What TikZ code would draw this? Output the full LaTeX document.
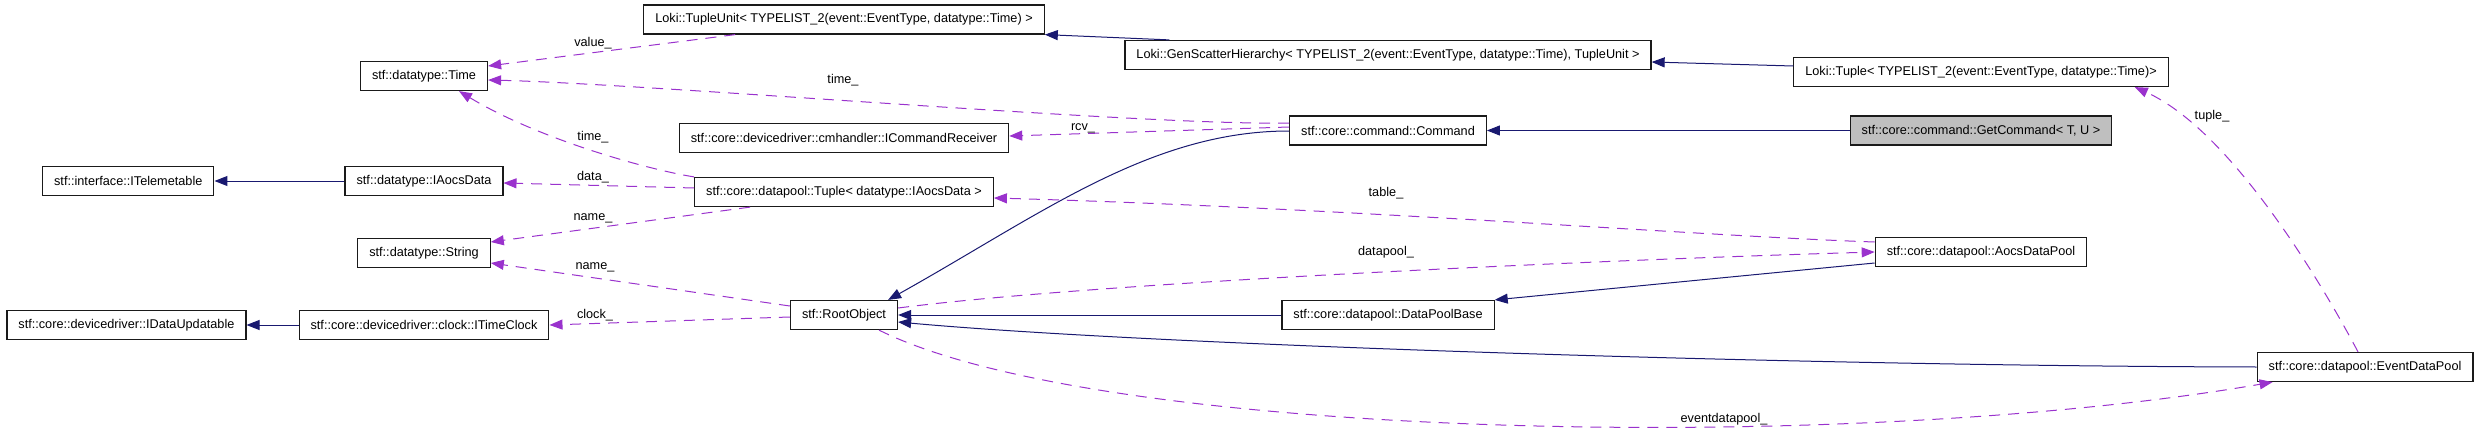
\documentclass[tikz,border=0pt]{standalone}
\usepackage{fontspec}
\setmainfont{Liberation Sans}
\usetikzlibrary{arrows.meta,positioning}
\definecolor{edgeblue}{HTML}{191970}
\definecolor{edgepurple}{HTML}{9A32CD}
\definecolor{boxline}{HTML}{1A1A1A}
\definecolor{boxfocus}{HTML}{BFBFBF}

\begin{document}
\begin{tikzpicture}[x=1pt, y=-1pt,
  cls/.style={rectangle, draw=boxline, line width=1.2pt, fill=white,
              minimum height=29pt, inner xsep=11.5pt, inner ysep=0pt,
              font=\fontsize{12.7}{15}\selectfont, text=black},
  focus/.style={cls, fill=boxfocus},
  inh/.style={-{Triangle[length=13pt,width=10pt]}, line width=1pt, edgeblue},
  member/.style={-{Triangle[length=13pt,width=10pt]}, line width=1pt, edgepurple,
                 dash pattern=on 11pt off 8pt},
  lbl/.style={font=\fontsize{12.7}{15}\selectfont, text=black, inner sep=1pt},
]
  \useasboundingbox (0,0) rectangle (2480,441);

  % interfaces and data types
  \node[cls] (time) at (424,76) {stf::datatype::Time};
  \node[cls] (iaocs) at (424,181) {stf::datatype::IAocsData};
  \node[cls, left=130pt of iaocs] (itelem) {stf::interface::ITelemetable};
  \node[cls] (string) at (424,253) {stf::datatype::String};
  \node[cls] (timeclock) at (424,325) {stf::core::devicedriver::clock::ITimeClock};
  \node[cls, left=52pt of timeclock] (dataupd) {stf::core::devicedriver::IDataUpdatable};

  % middle column
  \node[cls] (tupleunit) at (844,19.5) {Loki::TupleUnit< TYPELIST\_2(event::EventType, datatype::Time) >};
  \node[cls] (cmdrecv) at (844,138) {stf::core::devicedriver::cmhandler::ICommandReceiver};
  \node[cls] (dptuple) at (844,192) {stf::core::datapool::Tuple< datatype::IAocsData >};
  \node[cls] (root) at (844,315) {stf::RootObject};

  \node[cls] (genscatter) at (1388,55) {Loki::GenScatterHierarchy< TYPELIST\_2(event::EventType, datatype::Time), TupleUnit >};
  \node[cls] (command) at (1388,130.5) {stf::core::command::Command};
  \node[cls] (dpbase) at (1388,315) {stf::core::datapool::DataPoolBase};

  % right side
  \node[cls] (ltuple) at (1981,72) {Loki::Tuple< TYPELIST\_2(event::EventType, datatype::Time)>};
  \node[focus] (getcmd) at (1981,130.5) {stf::core::command::GetCommand< T, U >};
  \node[cls] (aocsdp) at (1981,252) {stf::core::datapool::AocsDataPool};
  \node[cls] (eventdp) at (2365,367) {stf::core::datapool::EventDataPool};

  % inheritance
  \draw[inh] (iaocs) -- (itelem);
  \draw[inh] (timeclock) -- (dataupd);
  \draw[inh] ([xshift=45pt]genscatter.north west) -- (tupleunit.south east);
  \draw[inh] ([yshift=6pt]ltuple.west) -- ([yshift=-7pt]genscatter.east);
  \draw[inh] (getcmd) -- (command);
  \draw[inh] ([yshift=-0.5pt]command.west) .. controls (1150,131) and (1040,215) .. ([xshift=-10pt]root.north east);
  \draw[inh] (dpbase) -- (root);
  \draw[inh] ([yshift=-11pt]aocsdp.west) -- (dpbase.north east);
  \draw[inh] (eventdp.west) .. controls (1800,366) and (1150,345) .. ([yshift=-7pt]root.east);

  % members
  \draw[member] ([xshift=92pt]tupleunit.south west) -- ([yshift=10pt]time.east)
    node[lbl] (lvalue) at (593,43) {value\_};
  \draw[member] ([yshift=7.5pt]command.west) .. controls (1150,126) and (650,84) .. ([yshift=-4pt]time.east)
    node[lbl] (ltimecmd) at (843,80) {time\_};
  \draw[member] ([yshift=3.5pt]command.west) -- ([yshift=2pt]cmdrecv.east)
    node[lbl] (lrcv) at (1083,128) {rcv\_};
  \draw[member] (dptuple.north west) .. controls (650,170) and (540,140) .. ([xshift=35pt]time.south)
    node[lbl] (ltimetuple) at (593,137) {time\_};
  \draw[member] ([yshift=4pt]dptuple.west) -- ([yshift=-2pt]iaocs.east)
    node[lbl] (ldata) at (593,177) {data\_};
  \draw[member] ([xshift=56pt]dptuple.south west) -- ([yshift=11pt]string.east)
    node[lbl] (lnametuple) at (593,218) {name\_};
  \draw[member] ([yshift=9pt]root.west) -- ([yshift=-10pt]string.east)
    node[lbl] (lnameroot) at (595,267) {name\_};
  \draw[member] ([yshift=-2pt]root.west) -- (timeclock.east)
    node[lbl] (lclock) at (595,315) {clock\_};
  \draw[member] ([yshift=10pt]aocsdp.west) .. controls (1700,236) and (1350,208) .. ([yshift=-6pt]dptuple.east)
    node[lbl] (ltable) at (1386,193) {table\_};
  \draw[member] ([yshift=7pt]root.east) .. controls (1100,282) and (1600,260) .. (aocsdp.west)
    node[lbl] (ldatapool) at (1386,252) {datapool\_};
  \draw[member] ([xshift=35pt]root.south) .. controls (1100,440) and (1850,455) .. ([xshift=16pt]eventdp.south west)
    node[lbl] (leventdp) at (1724,419) {eventdatapool\_};
  \draw[member] ([xshift=-7pt]eventdp.north) .. controls (2320,280) and (2230,130) .. ([xshift=-34pt]ltuple.south east)
    node[lbl] (ltuplelbl) at (2212,116) {tuple\_};
\end{tikzpicture}
\end{document}
